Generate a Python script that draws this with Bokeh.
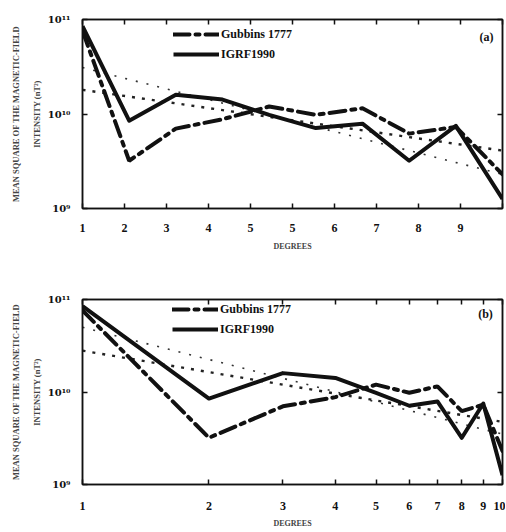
import numpy as np
from bokeh.plotting import figure
from bokeh.layouts import column
from bokeh.models import (FixedTicker, CustomJSTickFormatter, Legend, LegendItem,
                          Label, LinearAxis, LogAxis, Range1d)
from bokeh.embed import file_html
from bokeh.resources import INLINE

# ---------------- data ----------------
degrees = [1, 2, 3, 4, 5, 6, 7, 8, 9, 10]
gubbins_1777 = [7.6e10, 3.2e9, 7.0e9, 8.8e9, 1.2e10, 9.8e9, 1.15e10, 6.2e9, 7.3e9, 2.3e9]
igrf_1990 = [8.5e10, 8.5e9, 1.6e10, 1.42e10, 9.8e9, 7.1e9, 7.9e9, 3.2e9, 7.5e9, 1.26e9]

fit_degrees = [1, 10]
fit_a_upper = [3.1e10, 2.3e9]
fit_a_lower = [1.8e10, 4.1e9]
fit_b_upper = [5.0e10, 3.5e9]
fit_b_lower = [2.8e10, 4.75e9]

x_tick_labels_a = ["1", "2", "3", "4", "5", "5", "6", "7", "8", "9", ""]
x_tick_labels_b = ["1", "2", "3", "4", "5", "6", "7", "8", "9", "10"]
y_tick_values = [1e9, 1e10, 1e11]
y_tick_labels = ["10\u2079", "10\u00b9\u2070", "10\u00b9\u00b9"]

series_names = ["Gubbins 1777", "IGRF1990"]
panel_labels = ["(a)", "(b)"]
y_title = "MEAN SQUARE OF THE MAGNETIC-FIELD\nINTENSITY (nT\u00b2)"
x_title = "DEGREES"

FONT = "Liberation Serif"
SUPFONT = "DejaVu Serif"
INK = "#111111"

JS = """
for (let i = 0; i < pos.length; i++) {
  if (Math.abs(tick - pos[i]) <= 1e-6 * Math.max(1, Math.abs(pos[i]))) { return labels[i]; }
}
return "";
"""


def fmt(pos, labels):
    return CustomJSTickFormatter(args=dict(pos=list(pos), labels=list(labels)), code=JS)


def style_axis(ax):
    ax.axis_line_color = INK
    ax.axis_line_width = 1.5
    ax.major_tick_in = 5
    ax.major_tick_out = 0
    ax.major_tick_line_color = INK
    ax.major_tick_line_width = 1.5
    ax.minor_tick_line_color = None
    ax.major_label_text_font = FONT
    ax.major_label_text_font_style = "bold"
    ax.major_label_text_color = INK


def make_panel(x_type, x_ticks, x_labels, fit_up, fit_lo, tag,
               height, b_left, b_right, b_top, b_bottom, leg_loc, tag_loc,
               x_standoff, x_title_standoff):
    p = figure(width=505, height=height, x_axis_type=x_type, y_axis_type="log",
               x_range=Range1d(1, 10), y_range=Range1d(1e9, 1e11),
               output_backend="svg", toolbar_location=None,
               min_border_left=b_left, min_border_right=b_right,
               min_border_top=b_top, min_border_bottom=b_bottom)
    p.background_fill_color = "white"
    p.border_fill_color = "white"
    p.outline_line_color = INK
    p.outline_line_width = 1.5
    p.xgrid.visible = False
    p.ygrid.visible = False

    xt = FixedTicker(ticks=list(x_ticks), minor_ticks=[])
    yt = FixedTicker(ticks=y_tick_values, minor_ticks=[])

    xa = p.xaxis[0]
    xa.ticker = xt
    xa.formatter = fmt(x_ticks, x_labels)
    style_axis(xa)
    xa.major_label_text_font_size = "12px"
    xa.major_label_standoff = x_standoff
    xa.axis_label = x_title
    xa.axis_label_text_font = FONT
    xa.axis_label_text_font_style = "bold"
    xa.axis_label_text_font_size = "8px"
    xa.axis_label_standoff = x_title_standoff

    ya = p.yaxis[0]
    ya.ticker = yt
    ya.formatter = fmt(y_tick_values, y_tick_labels)
    style_axis(ya)
    ya.major_label_text_font = SUPFONT
    ya.major_label_text_font_size = "10px"
    ya.major_label_standoff = 12
    ya.axis_label = y_title
    ya.axis_label_text_font = FONT
    ya.axis_label_text_font_style = "bold"
    ya.axis_label_text_font_size = "8.5px"
    ya.axis_label_text_line_height = 2.1
    ya.axis_label_standoff = 3

    # inward ticks on top and right edges (no labels)
    top_cls = LogAxis if x_type == "log" else LinearAxis
    top = top_cls(ticker=xt, formatter=fmt(x_ticks, [""] * len(x_ticks)),
                  major_label_standoff=0, major_label_text_font_size="1px")
    style_axis(top)
    p.add_layout(top, "above")
    right = LogAxis(ticker=yt, formatter=fmt(y_tick_values, ["", "", ""]),
                    major_label_standoff=0, major_label_text_font_size="1px")
    style_axis(right)
    p.add_layout(right, "right")

    # fitted (dotted) lines
    p.line(fit_degrees, fit_up, line_color="#333333", line_width=1.6, line_dash="2 9")
    p.line(fit_degrees, fit_lo, line_color="#222222", line_width=2.4, line_dash="3 7")

    r_g = p.line(degrees, gubbins_1777, line_color=INK, line_width=4,
                 line_dash="16 6 4 6", line_cap="round")
    r_i = p.line(degrees, igrf_1990, line_color=INK, line_width=4, line_join="round")

    leg = Legend(items=[LegendItem(label=series_names[0], renderers=[r_g]),
                        LegendItem(label=series_names[1], renderers=[r_i])],
                 location=leg_loc, padding=0, margin=0, spacing=0,
                 glyph_width=46, glyph_height=20, label_height=20, label_standoff=2,
                 background_fill_alpha=0, border_line_color=None,
                 label_text_font=FONT, label_text_font_style="bold",
                 label_text_font_size="12px", label_text_color=INK)
    p.add_layout(leg, "center")

    p.add_layout(Label(x=tag_loc[0], y=tag_loc[1], x_units="screen", y_units="screen",
                       text=tag, text_font=FONT, text_font_style="bold",
                       text_font_size="12px", text_color=INK,
                       text_align="center", text_baseline="middle"))
    return p


ticks_a = np.linspace(1, 10, 11)
ticks_b = np.array(degrees, dtype=float)

pa = make_panel("linear", ticks_a, x_tick_labels_a, fit_a_upper, fit_a_lower,
                panel_labels[0], 270, 82, 0, 19, 62, (91, 144), (404, 172), 15, 7)
pb = make_panel("log", ticks_b, x_tick_labels_b, fit_b_upper, fit_b_lower,
                panel_labels[1], 260, 78, 3, 29, 42, (90, 145), (403, 171), 17, 6)

layout = column(pa, pb, spacing=0)
open("out.html", "w").write(file_html(layout, INLINE))
